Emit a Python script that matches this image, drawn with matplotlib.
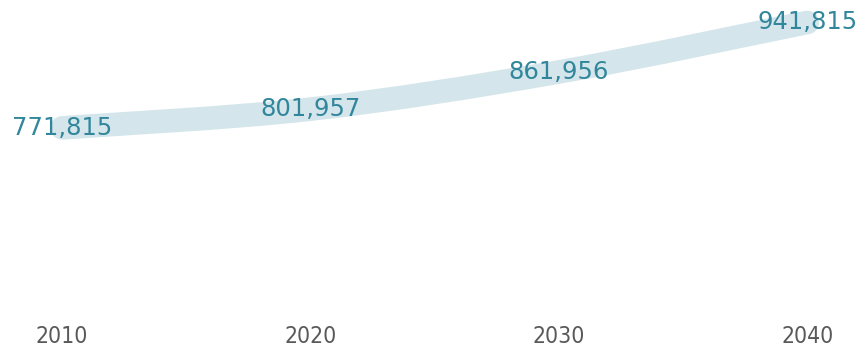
import numpy as np
import matplotlib.pyplot as plt
from matplotlib.path import Path
from matplotlib.patches import PathPatch

years = [2010, 2020, 2030, 2040]
population = [771815, 801957, 861956, 941815]
year_labels = ['2010', '2020', '2030', '2040']


def smooth_path(x, y, tension=1/6):
    # Catmull-Rom segments turned into cubic Bezier pieces (like a smoothed line)
    x = np.asarray(x, float)
    y = np.asarray(y, float)
    verts = [(x[0], y[0])]
    codes = [Path.MOVETO]
    n = len(x)
    for i in range(n - 1):
        x0, y0 = (x[i - 1], y[i - 1]) if i > 0 else (x[i], y[i])
        x3, y3 = (x[i + 2], y[i + 2]) if i + 2 < n else (x[i + 1], y[i + 1])
        c1 = (x[i] + (x[i + 1] - x0) * tension, y[i] + (y[i + 1] - y0) * tension)
        c2 = (x[i + 1] - (x3 - x[i]) * tension, y[i + 1] - (y3 - y[i]) * tension)
        verts += [c1, c2, (x[i + 1], y[i + 1])]
        codes += [Path.CURVE4] * 3
    return Path(verts, codes)


fig = plt.figure(figsize=(8.62, 3.5), dpi=100)
ax = fig.add_axes([0, 0.1, 1, 0.9])

line = PathPatch(smooth_path(years, population), facecolor='none',
                 edgecolor='#d4e6eb', lw=17, capstyle='round', joinstyle='round')
ax.add_patch(line)

for yr, val in zip(years, population):
    ax.text(yr, val, f'{val:,}', ha='center', va='center',
            fontsize=17.5, color='#31869b')

ax.set_xlim(2007.5, 2042.2)
ax.set_ylim(470000, 978000)

ax.set_xticks(years)
ax.set_xticklabels(year_labels, fontsize=16.5, color='#595959',
                   family='DejaVu Sans', fontstretch='condensed')
ax.tick_params(axis='x', length=0, pad=7)
ax.set_yticks([])
for s in ax.spines.values():
    s.set_visible(False)

fig.savefig('out.png', dpi=100)
